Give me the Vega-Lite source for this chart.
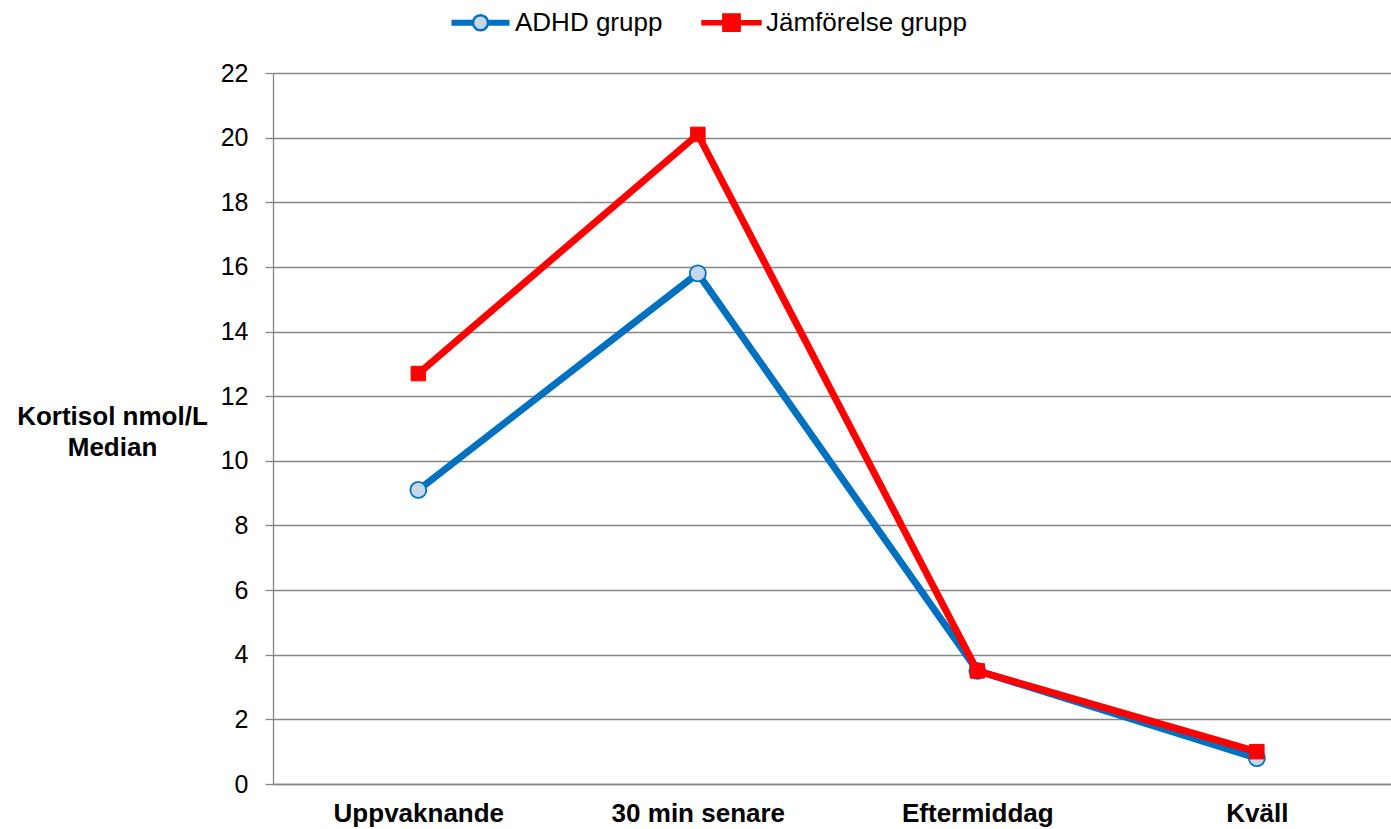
{
  "$schema": "https://vega.github.io/schema/vega-lite/v6.json",
  "autosize": {"type": "none"},
  "padding": {"left": 273, "top": 73, "right": 0, "bottom": 45},
  "width": 1118,
  "height": 711,
  "background": "white",
  "config": {
    "view": {"stroke": null},
    "font": "Liberation Sans"
  },
  "data": {
    "values": [
      {"time": "Uppvaknande", "group": "ADHD grupp", "value": 9.1},
      {"time": "30 min senare", "group": "ADHD grupp", "value": 15.8},
      {"time": "Eftermiddag", "group": "ADHD grupp", "value": 3.5},
      {"time": "Kväll", "group": "ADHD grupp", "value": 0.8},
      {"time": "Uppvaknande", "group": "Jämförelse grupp", "value": 12.7},
      {"time": "30 min senare", "group": "Jämförelse grupp", "value": 20.1},
      {"time": "Eftermiddag", "group": "Jämförelse grupp", "value": 3.5},
      {"time": "Kväll", "group": "Jämförelse grupp", "value": 1.0}
    ]
  },
  "encoding": {
    "x": {
      "field": "time",
      "type": "nominal",
      "sort": ["Uppvaknande", "30 min senare", "Eftermiddag", "Kväll"],
      "scale": {"type": "point", "paddingOuter": 0.484, "align": 0.52},
      "axis": {
        "title": null,
        "labelAngle": 0,
        "labelFont": "Liberation Sans",
        "labelFontSize": 26,
        "labelFontWeight": "bold",
        "labelColor": "#000000",
        "labelPadding": 16,
        "ticks": false,
        "domain": true,
        "domainColor": "#868686",
        "domainWidth": 1.3,
        "grid": false
      }
    },
    "y": {
      "field": "value",
      "type": "quantitative",
      "scale": {"domain": [0, 22], "nice": false, "zero": true},
      "axis": {
        "values": [0, 2, 4, 6, 8, 10, 12, 14, 16, 18, 20, 22],
        "title": ["Kortisol nmol/L", "Median"],
        "titleFont": "Liberation Sans",
        "titleFontSize": 26,
        "titleFontWeight": "bold",
        "titleColor": "#000000",
        "titleAngle": 0,
        "titleAlign": "center",
        "titleBaseline": "middle",
        "titleLineHeight": 31,
        "titleX": -161,
        "titleY": 343,
        "labelFont": "Liberation Sans",
        "labelFontSize": 25,
        "labelColor": "#000000",
        "labelPadding": 17,
        "tickSize": 8,
        "tickColor": "#868686",
        "tickWidth": 1.3,
        "domainColor": "#868686",
        "domainWidth": 1.3,
        "grid": true,
        "gridColor": "#868686",
        "gridWidth": 1.3
      }
    }
  },
  "layer": [
    {
      "transform": [{"filter": "datum.group === 'ADHD grupp'"}],
      "mark": {"type": "line", "strokeWidth": 7},
      "encoding": {
        "stroke": {
          "field": "group",
          "type": "nominal",
          "scale": {"domain": ["ADHD grupp", "Jämförelse grupp"], "range": ["#0070C0", "#FF0000"]},
          "legend": {
            "title": null,
            "orient": "none",
            "direction": "horizontal",
            "legendX": 177,
            "legendY": -81,
            "symbolSize": 3364,
            "symbolStrokeWidth": 2.5,
            "labelFont": "Liberation Sans",
            "labelFontSize": 26,
            "labelColor": "#000000",
            "labelOffset": 4,
            "labelLimit": 500,
            "columnPadding": 34,
            "encode": {
              "symbols": {
                "update": {
                  "shape": {"signal": "datum.value === 'ADHD grupp' ? 'M-1,-0.06H-0.26M-1,-0.02H-0.26M-1,0.02H-0.26M-1,0.06H-0.26M0.26,-0.06H1M0.26,-0.02H1M0.26,0.02H1M0.26,0.06H1M-0.26,0A0.26,0.26,0,1,1,0.26,0A0.26,0.26,0,1,1,-0.26,0Z' : 'M-1,-0.05H1V0.05H-1ZM-0.28,-0.28H0.28V0.28H-0.28Z'"},
                  "fill": {"signal": "datum.value === 'ADHD grupp' ? '#C6D6EC' : '#FF0000'"},
                  "opacity": {"value": 1}
                }
              }
            }
          }
        }
      }
    },
    {
      "transform": [{"filter": "datum.group === 'ADHD grupp'"}],
      "mark": {"type": "point", "shape": "circle", "filled": true, "fill": "#C6D6EC", "stroke": "#0070C0", "strokeWidth": 1.8, "size": 256, "opacity": 1}
    },
    {
      "transform": [{"filter": "datum.group === 'Jämförelse grupp'"}],
      "mark": {"type": "line", "strokeWidth": 7},
      "encoding": {
        "stroke": {"field": "group", "type": "nominal"}
      }
    },
    {
      "transform": [{"filter": "datum.group === 'Jämförelse grupp'"}],
      "mark": {"type": "point", "shape": "square", "filled": true, "fill": "#FF0000", "stroke": "#FF0000", "strokeWidth": 1, "size": 210, "opacity": 1}
    }
  ]
}
